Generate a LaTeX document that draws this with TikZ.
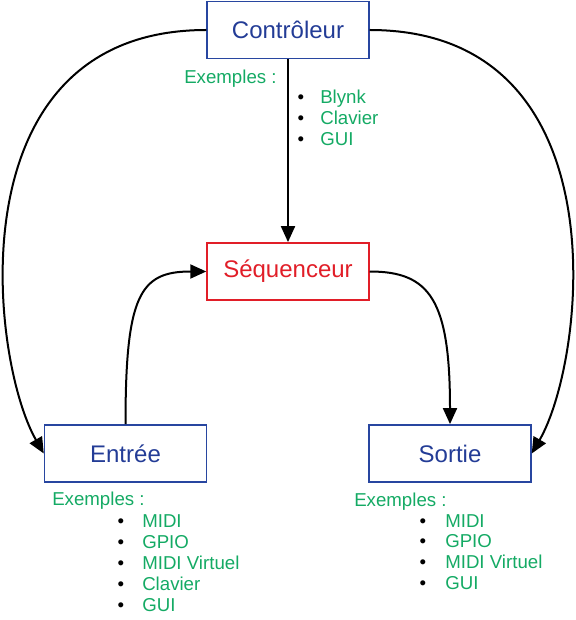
\documentclass[tikz,border=0pt]{standalone}
\usepackage{fontspec}
\setmainfont{Liberation Sans}
\usepackage{xcolor}
\usepackage{tikz}
\usetikzlibrary{arrows.meta}
\definecolor{boxblue}{RGB}{40,70,160}
\definecolor{textblue}{RGB}{35,60,150}
\definecolor{seqred}{RGB}{225,30,40}
\definecolor{exgreen}{RGB}{20,170,100}

\begin{document}
\begin{tikzpicture}[x=0.75pt, y=-0.75pt, >={Triangle[length=12pt, width=10.5pt]},
    bloc/.style={draw=boxblue, line width=1.1pt, text=textblue, minimum width=121.5pt,
      minimum height=43pt, inner sep=0pt, font=\fontsize{18}{22}\selectfont},
    exemple/.style={text=exgreen, anchor=base west, inner sep=0pt, font=\fontsize{14}{17}\selectfont},
    puce/.style={anchor=base, inner sep=0pt, font=\fontsize{14}{17}\selectfont},
    fleche/.style={->, line width=1.5pt}]
    \useasboundingbox (0,0) rectangle (575,620);

    % the four blocks
    \node[bloc] (controleur) at (288,30) {Contrôleur};
    \node[bloc, draw=seqred, text=seqred] (sequenceur) at (288,271.5) {Séquenceur};
    \node[bloc] (entree) at (125.5,453.5) {Entrée};
    \node[bloc] (sortie) at (450,453.5) {Sortie};

    % connectors
    \draw[fleche] (controleur) -- (sequenceur);
    \draw[fleche] (controleur.west) .. controls (-48,30) and (-10,360) .. (entree.west);
    \draw[fleche] (controleur.east) .. controls (624,30) and (586,360) .. (sortie.east);
    \draw[fleche] (entree.north) .. controls (125.5,295) and (140,271.5) .. (sequenceur.west);
    \draw[fleche] (sequenceur.east) .. controls (430,271.5) and (450,300) .. (sortie.north);

    % examples for the controller
    \node[exemple] (exctrl) at (184,84) {Exemples :};
    \foreach \i/\t in {0/Blynk, 1/Clavier, 2/GUI} {
      \node[puce] (pc\i) at (301,104+21*\i) {\textbullet};
      \node[exemple] (lc\i) at (320,104+21*\i) {\t};
    }

    % examples for the input
    \node[exemple] (exentree) at (52,505) {Exemples :};
    \foreach \i/\t in {0/MIDI, 1/GPIO, 2/MIDI Virtuel, 3/Clavier, 4/GUI} {
      \node[puce] (pe\i) at (121,527+21*\i) {\textbullet};
      \node[exemple] (le\i) at (142,527+21*\i) {\t};
    }

    % examples for the output
    \node[exemple] (exsortie) at (354,506) {Exemples :};
    \foreach \i/\t in {0/MIDI, 1/GPIO, 2/MIDI Virtuel, 3/GUI} {
      \node[puce] (ps\i) at (423,527+20.7*\i) {\textbullet};
      \node[exemple] (ls\i) at (445,527+20.7*\i) {\t};
    }
  \end{tikzpicture}
\end{document}
